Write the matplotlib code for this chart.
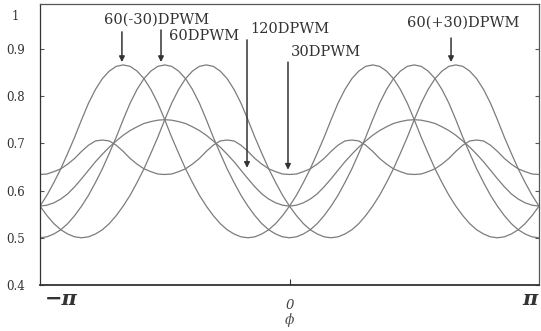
import numpy as np
import matplotlib.pyplot as plt

plt.rcParams['font.family'] = ['DejaVu Serif']

# power-factor angle grid, degrees (-180 .. 180, step 5)
phi_deg = np.arange(-180, 181, 5)

# values, one list per curve
dpwm60 = [0.500, 0.502, 0.508, 0.517, 0.530, 0.547, 0.567, 0.590, 0.617, 0.646, 0.679, 0.713, 0.750, 0.785, 0.814, 0.837, 0.853, 0.863, 0.866,
          0.863, 0.853, 0.837, 0.814, 0.785, 0.750, 0.713, 0.679, 0.646, 0.617, 0.590, 0.567, 0.547, 0.530, 0.517, 0.508, 0.502, 0.500,
          0.502, 0.508, 0.517, 0.530, 0.547, 0.567, 0.590, 0.617, 0.646, 0.679, 0.713, 0.750, 0.785, 0.814, 0.837, 0.853, 0.863, 0.866,
          0.863, 0.853, 0.837, 0.814, 0.785, 0.750, 0.713, 0.679, 0.646, 0.617, 0.590, 0.567, 0.547, 0.530, 0.517, 0.508, 0.502, 0.500]

dpwm60_m30 = [0.567, 0.590, 0.617, 0.646, 0.679, 0.713, 0.750, 0.785, 0.814, 0.837, 0.853, 0.863, 0.866,
              0.863, 0.853, 0.837, 0.814, 0.785, 0.750, 0.713, 0.679, 0.646, 0.617, 0.590, 0.567, 0.547, 0.530, 0.517, 0.508, 0.502, 0.500,
              0.502, 0.508, 0.517, 0.530, 0.547, 0.567, 0.590, 0.617, 0.646, 0.679, 0.713, 0.750, 0.785, 0.814, 0.837, 0.853, 0.863, 0.866,
              0.863, 0.853, 0.837, 0.814, 0.785, 0.750, 0.713, 0.679, 0.646, 0.617, 0.590, 0.567, 0.547, 0.530, 0.517, 0.508, 0.502, 0.500,
              0.502, 0.508, 0.517, 0.530, 0.547, 0.567]

dpwm60_p30 = [0.567, 0.547, 0.530, 0.517, 0.508, 0.502,
              0.500, 0.502, 0.508, 0.517, 0.530, 0.547, 0.567, 0.590, 0.617, 0.646, 0.679, 0.713, 0.750, 0.785, 0.814, 0.837, 0.853, 0.863,
              0.866, 0.863, 0.853, 0.837, 0.814, 0.785, 0.750, 0.713, 0.679, 0.646, 0.617, 0.590, 0.567, 0.547, 0.530, 0.517, 0.508, 0.502,
              0.500, 0.502, 0.508, 0.517, 0.530, 0.547, 0.567, 0.590, 0.617, 0.646, 0.679, 0.713, 0.750, 0.785, 0.814, 0.837, 0.853, 0.863,
              0.866, 0.863, 0.853, 0.837, 0.814, 0.785, 0.750, 0.713, 0.679, 0.646, 0.617, 0.590, 0.567]

dpwm120 = [0.567, 0.569, 0.574, 0.582, 0.593, 0.608, 0.625, 0.643, 0.661, 0.677, 0.692, 0.705, 0.717, 0.727, 0.735, 0.742, 0.746, 0.749, 0.750,
           0.749, 0.746, 0.742, 0.735, 0.727, 0.717, 0.705, 0.692, 0.677, 0.661, 0.643, 0.625, 0.608, 0.593, 0.582, 0.574, 0.569, 0.567,
           0.569, 0.574, 0.582, 0.593, 0.608, 0.625, 0.643, 0.661, 0.677, 0.692, 0.705, 0.717, 0.727, 0.735, 0.742, 0.746, 0.749, 0.750,
           0.749, 0.746, 0.742, 0.735, 0.727, 0.717, 0.705, 0.692, 0.677, 0.661, 0.643, 0.625, 0.608, 0.593, 0.582, 0.574, 0.569, 0.567]

dpwm30 = [0.634, 0.635, 0.640, 0.646, 0.656, 0.668, 0.683, 0.696, 0.705, 0.707, 0.705, 0.696, 0.683, 0.668, 0.656, 0.646, 0.640, 0.635, 0.634,
          0.635, 0.640, 0.646, 0.656, 0.668, 0.683, 0.696, 0.705, 0.707, 0.705, 0.696, 0.683, 0.668, 0.656, 0.646, 0.640, 0.635, 0.634,
          0.635, 0.640, 0.646, 0.656, 0.668, 0.683, 0.696, 0.705, 0.707, 0.705, 0.696, 0.683, 0.668, 0.656, 0.646, 0.640, 0.635, 0.634,
          0.635, 0.640, 0.646, 0.656, 0.668, 0.683, 0.696, 0.705, 0.707, 0.705, 0.696, 0.683, 0.668, 0.656, 0.646, 0.640, 0.635, 0.634]

ytick_vals = [0.4, 0.5, 0.6, 0.7, 0.8, 0.9]
ytick_labels = ['0.4', '0.5', '0.6', '0.7', '0.8', '0.9']

phi = np.deg2rad(phi_deg)

fig = plt.figure(figsize=(5.41, 3.31), dpi=100)
ax = fig.add_axes([40 / 541, 46 / 331, 499 / 541, 281 / 331])

for ys in [dpwm60, dpwm60_m30, dpwm60_p30, dpwm120, dpwm30]:
    ax.plot(phi, ys, color='#7c7c7c', lw=0.9)

ax.set_xlim(-np.pi, np.pi)
ax.set_ylim(0.4, 0.995)

for s in ax.spines.values():
    s.set_color('#555555')
    s.set_linewidth(0.9)
ax.spines['left'].set_color('#333333')
ax.spines['bottom'].set_color('#333333')
ax.spines['bottom'].set_linewidth(1.3)

ax.set_yticks(ytick_vals)
ax.set_yticklabels(ytick_labels)
ax.tick_params(axis='y', direction='in', length=3, width=0.8, color='#555555',
               right=True, pad=11, labelsize=8.5, labelcolor='#333333')
ax.text(-0.042, 0.968, '1', transform=ax.get_yaxis_transform(), ha='right', va='center',
        fontsize=8.5, color='#333333')

ax.set_xticks([0])
ax.set_xticklabels(['0'], fontstyle='italic')
ax.tick_params(axis='x', direction='in', length=4, width=0.8, color='#333333',
               pad=10, labelsize=9.5, labelcolor='#444444')
ax.text(0.01, -0.05, '\u2212\u03c0', transform=ax.transAxes, ha='left', va='center',
        fontsize=15, fontweight='bold', fontstyle='italic', color='#333333')
ax.text(0.997, -0.05, '\u03c0', transform=ax.transAxes, ha='right', va='center',
        fontsize=15, fontweight='bold', fontstyle='italic', color='#333333')
ax.set_xlabel('\u03d5', fontstyle='italic', fontsize=10, color='#555555', labelpad=1)

# arrow labels
notes = [
    ('60(-30)DPWM', -1.669, 0.961, -2.110, 0.936, 0.872),
    ('60DPWM', -1.077, 0.928, -1.618, 0.940, 0.872),
    ('120DPWM', 0.006, 0.942, -0.535, 0.919, 0.648),
    ('30DPWM', 0.460, 0.894, -0.019, 0.872, 0.644),
    ('60(+30)DPWM', 2.185, 0.955, 2.034, 0.923, 0.872),
]
for label, tx, ty, ax_x, y0, y1 in notes:
    ax.text(tx, ty, label, ha='center', va='center', fontsize=10.5, color='#333333')
    ax.annotate('', xy=(ax_x, y1), xytext=(ax_x, y0),
                arrowprops=dict(arrowstyle='-|>', color='#333333', lw=1.1,
                                mutation_scale=8, shrinkA=0, shrinkB=0))

fig.savefig('out.png', dpi=100)
